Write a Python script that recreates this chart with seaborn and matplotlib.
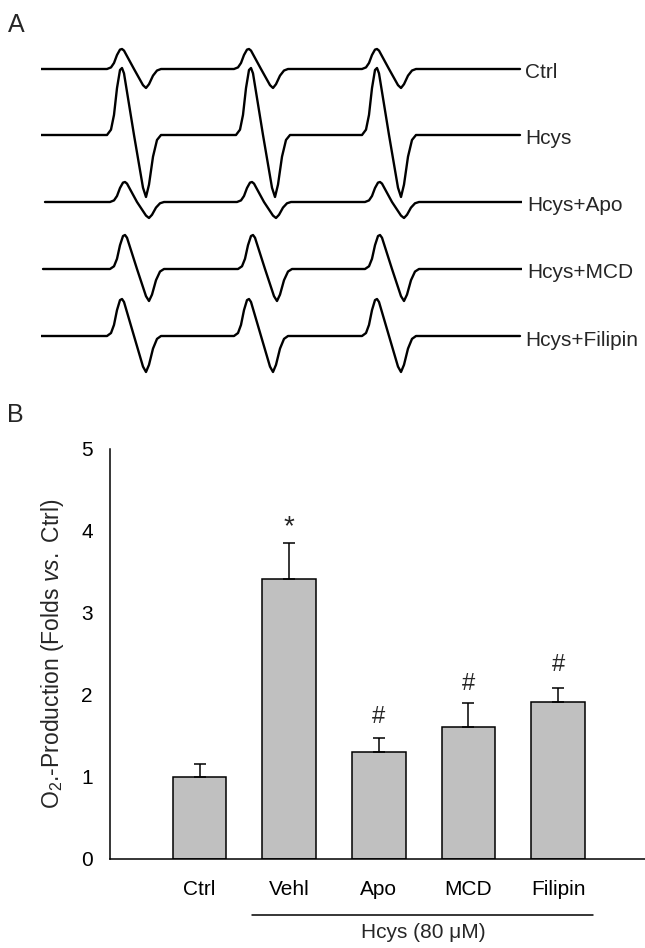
import numpy as np
import pandas as pd
import seaborn as sns
from matplotlib import pyplot as plt

# ---- panel A: EPR traces ----
trace_names = ["Ctrl", "Hcys", "Hcys+Apo", "Hcys+MCD", "Hcys+Filipin"]
trace_offset = [0, -66, -133, -200, -267]          # baseline of each trace
trace_start = [0, 0, 4, 2, 0]                       # field where trace begins
trace_end = [479, 479, 481, 481, 479]               # field where trace ends
ctrl_lines = [81, 208, 336]                         # field of each positive peak
hcys_lines = [81, 210, 336]
apo_lines = [84, 211, 339]
mcd_lines = [84, 212, 339]
filipin_lines = [81, 208, 336]
peak_up = [20, 67, 20, 34, 37]                      # height of the positive lobe
peak_down = [19, 62, 16, 32, 36]                    # depth of the negative lobe

# shape of one derivative line, relative to its peak (read from Ctrl/Hcys)
shape_t = [-15, -11, -8, -5, -2, 0, 2, 12, 21, 24, 27, 31, 35, 39]
shape_v = [0, 0.08, 0.3, 0.7, 0.97, 1.0, 0.92, 0.0, -0.85, -1.0, -0.8, -0.35, -0.08, 0]

# ---- panel B: superoxide production ----
groups = ["Ctrl", "Vehl", "Apo", "MCD", "Filipin"]
fold = [1.0, 3.41, 1.31, 1.61, 1.91]
sem = [0.16, 0.44, 0.16, 0.29, 0.18]
marks = ["", "*", "#", "#", "#"]
mark_y = [0, 4.05, 1.73, 2.13, 2.36]

sns.set_style("white")
plt.rcParams['font.family'] = ['Liberation Sans', 'DejaVu Sans']
plt.rcParams['mathtext.fontset'] = 'custom'
plt.rcParams['mathtext.rm'] = 'Liberation Sans'
plt.rcParams['mathtext.it'] = 'Liberation Sans:italic'

W, H = 645, 948
fig = plt.figure(figsize=(W / 100, H / 100), dpi=100)

def px_axes(x0, y0, x1, y1):
    return fig.add_axes([x0 / W, 1 - y1 / H, (x1 - x0) / W, (y1 - y0) / H])

# panel A
axA = px_axes(41, 40, 522, 380)
all_lines = [ctrl_lines, hcys_lines, apo_lines, mcd_lines, filipin_lines]
rows = []
for i, name in enumerate(trace_names):
    xs = [trace_start[i]]
    ys = [0.0]
    for pk in all_lines[i]:
        for t, v in zip(shape_t, shape_v):
            xs.append(pk + t)
            ys.append(v * (peak_up[i] if v > 0 else peak_down[i]))
    xs.append(trace_end[i])
    ys.append(0.0)
    for n, (x, y) in enumerate(zip(xs, ys)):
        rows.append({"trace": name, "order": n, "field": x, "signal": y + trace_offset[i]})
traces = pd.DataFrame(rows)
for name in trace_names:
    sub = traces[traces["trace"] == name]
    sns.lineplot(data=sub, x="field", y="signal", sort=False, estimator=None,
                 color="black", linewidth=1.7, ax=axA)
for i, name in enumerate(trace_names):
    axA.text(trace_end[i] + 5, trace_offset[i] - 4, name, fontsize=15,
             ha="left", va="center", clip_on=False)
axA.set_xlim(0, 481)
axA.set_ylim(-311, 29)
axA.axis("off")

fig.text(8 / W, 1 - 32 / H, "A", fontsize=18, va="baseline", ha="left")
fig.text(7 / W, 1 - 422 / H, "B", fontsize=18, va="baseline", ha="left")

# panel B
axB = px_axes(110, 449, 645, 859)
bars = pd.DataFrame({"group": groups, "fold": fold})
sns.barplot(data=bars, x="group", y="fold", color="#c0c0c0", saturation=1,
            edgecolor="black", linewidth=1.1, width=0.6, errorbar=None, ax=axB)
axB.errorbar(range(len(groups)), fold, yerr=[[0] * len(sem), sem], fmt="none",
             ecolor="black", elinewidth=1.1, capsize=4.5, capthick=1.1)
for i, m in enumerate(marks):
    if m:
        axB.text(i, mark_y[i], m, ha="center", va="center",
                 fontsize=17 if m == "#" else 20)
axB.set_xlim(-1.0, 4.97)
axB.set_ylim(0, 5)
axB.set_yticks([0, 1, 2, 3, 4, 5])
sns.despine(ax=axB)
for s in ["left", "bottom"]:
    axB.spines[s].set_color("black")
    axB.spines[s].set_linewidth(1.1)
axB.tick_params(axis="y", direction="out", length=4.5, width=1, pad=8, labelsize=15, colors="black")
axB.tick_params(axis="x", direction="out", length=4, width=1, pad=11, labelsize=15, colors="black")
axB.set_xlabel("")
axB.set_ylabel(r"O$_2$.-Production (Folds $vs.$ Ctrl)", fontsize=16.5, va="center")
axB.yaxis.set_label_coords(-0.108, 0.5)

# bracket for Hcys groups
axB.plot([1 - 0.41, 4 + 0.39], [-0.68, -0.68], color="black", linewidth=1.1, clip_on=False)
axB.text(2.5, -0.9, "Hcys (80 μM)", ha="center", va="center", fontsize=15)

fig.savefig("out.png", dpi=100)
